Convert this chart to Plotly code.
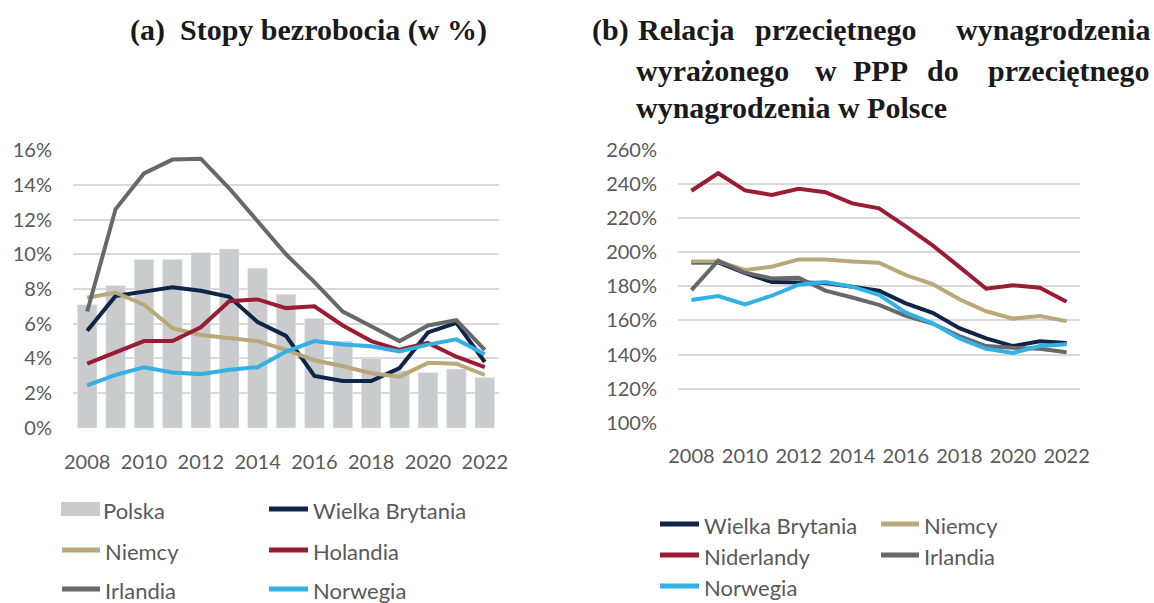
import plotly.graph_objects as go

# ---- data -------------------------------------------------------------
years = list(range(2008, 2023))
year_ticks = [2008, 2010, 2012, 2014, 2016, 2018, 2020, 2022]

# (a) unemployment rates, %
polska = [7.1, 8.2, 9.7, 9.7, 10.1, 10.3, 9.2, 7.7, 6.3, 5.0, 4.0, 3.3, 3.2, 3.4, 2.9]
u_wielka_brytania = [5.6, 7.6, 7.85, 8.1, 7.9, 7.55, 6.1, 5.3, 3.0, 2.7, 2.7, 3.45, 5.5, 6.05, 3.8]
u_niemcy = [7.5, 7.8, 7.1, 5.75, 5.35, 5.15, 5.0, 4.5, 3.9, 3.55, 3.15, 2.95, 3.75, 3.7, 3.05]
u_holandia = [3.7, 4.35, 5.0, 5.0, 5.8, 7.3, 7.4, 6.9, 7.0, 5.9, 5.0, 4.5, 4.9, 4.1, 3.5]
u_irlandia = [6.7, 12.6, 14.65, 15.45, 15.5, 13.8, 11.9, 10.0, 8.4, 6.7, 5.85, 5.0, 5.9, 6.2, 4.5]
u_norwegia = [2.45, 3.05, 3.5, 3.2, 3.1, 3.35, 3.5, 4.4, 5.0, 4.8, 4.7, 4.4, 4.8, 5.1, 4.25]

# (b) average wage in PPP relative to the Polish average wage, %
w_wielka_brytania = [194, 194, 187.7, 182.5, 182.3, 182, 179.8, 177.4, 170, 164.5, 155.5, 149.5, 145, 147.8, 146.8]
w_niemcy = [194.5, 194.5, 189.6, 191.5, 195.8, 195.8, 194.5, 193.9, 186.6, 181.3, 172.4, 165.4, 161.1, 162.6, 159.6]
w_niderlandy = [236, 246.3, 236.2, 233.6, 237.2, 235.2, 228.6, 225.7, 215.2, 204, 191.4, 178.6, 180.6, 179.2, 171]
w_irlandia = [177.8, 195.1, 188, 184.6, 185, 177.5, 173.5, 169.2, 162.7, 158.2, 150.8, 145, 144, 143.4, 141.4]
w_norwegia = [172, 174.3, 169.4, 174.5, 181, 182.5, 179.8, 175, 164.6, 158.4, 149.5, 143.4, 141, 145, 146]

# ---- styling ----------------------------------------------------------
C_BAR = "#c9cbcc"
C_NAVY = "#0f2548"
C_TAN = "#b8a87a"
C_RED = "#9a1c34"
C_GRAY = "#66696a"
C_BLUE = "#33b1e4"
TXT = "#595959"
GRID = "#d9d9d9"
FONT = "Lato"
W, H = 1154, 603


def px_x(x):
    return x / W


def px_y(y):
    return 1 - y / H


fig = go.Figure()

# left panel
fig.add_trace(go.Bar(x=years, y=polska, marker_color=C_BAR, name="Polska",
                     xaxis="x", yaxis="y", showlegend=False))
left_lines = [
    ("Wielka Brytania", u_wielka_brytania, C_NAVY),
    ("Niemcy", u_niemcy, C_TAN),
    ("Holandia", u_holandia, C_RED),
    ("Irlandia", u_irlandia, C_GRAY),
    ("Norwegia", u_norwegia, C_BLUE),
]
for name, vals, col in left_lines:
    fig.add_trace(go.Scatter(x=years, y=vals, mode="lines", name=name,
                             line=dict(color=col, width=4), xaxis="x", yaxis="y",
                             showlegend=False))

# right panel
right_lines = [
    ("Wielka Brytania", w_wielka_brytania, C_NAVY),
    ("Niemcy", w_niemcy, C_TAN),
    ("Niderlandy", w_niderlandy, C_RED),
    ("Irlandia", w_irlandia, C_GRAY),
    ("Norwegia", w_norwegia, C_BLUE),
]
for name, vals, col in right_lines:
    fig.add_trace(go.Scatter(x=years, y=vals, mode="lines", name=name,
                             line=dict(color=col, width=4), xaxis="x2", yaxis="y2",
                             showlegend=False))

tickfont = dict(family=FONT, size=20, color=TXT)
xcommon = dict(tickvals=year_ticks, ticktext=[str(t) for t in year_ticks],
               range=[2007.5, 2022.5], showgrid=False, zeroline=False,
               showline=False, ticks="", tickfont=tickfont, ticklabelstandoff=19,
               automargin=False)
ycommon = dict(showgrid=True, gridcolor=GRID, gridwidth=2, zeroline=False,
               showline=False, ticks="", tickfont=tickfont, ticksuffix="%",
               ticklabelstandoff=20, automargin=False)

fig.update_layout(
    width=W, height=H,
    margin=dict(l=0, r=0, t=0, b=0, autoexpand=False),
    paper_bgcolor="white", plot_bgcolor="white",
    bargap=0.31,
    xaxis=dict(domain=[px_x(73), px_x(499)], anchor="y", **xcommon),
    yaxis=dict(domain=[px_y(428.5), px_y(149.5)], anchor="x",
               range=[-0.03, 16.03], dtick=2, **ycommon),
    xaxis2=dict(domain=[px_x(678), px_x(1080)], anchor="y2", **xcommon),
    yaxis2=dict(domain=[px_y(423.2), px_y(149.5)], anchor="x2",
                range=[99.8, 260.2], dtick=20, **ycommon),
)

# ---- titles -----------------------------------------------------------
tfont = dict(family="Liberation Serif", size=30, color="#1a1a1a")


def title_word(text, x, y, anchor="left"):
    fig.add_annotation(text=f"<b>{text}</b>", x=px_x(x), y=px_y(y), xref="paper",
                       yref="paper", xanchor=anchor, yanchor="middle",
                       showarrow=False, font=tfont)


title_word("(a)  Stopy bezrobocia (w %)", 128, 30)
title_word("(b)", 590, 30)
title_word("Relacja", 636, 30)
title_word("przeciętnego", 836, 30, "center")
title_word("wynagrodzenia", 1152, 30, "right")
title_word("wyrażonego", 634, 70)
title_word("w", 826, 70, "center")
title_word("PPP", 880, 70, "center")
title_word("do", 943, 70, "center")
title_word("przeciętnego", 1152, 70, "right")
title_word("wynagrodzenia w Polsce", 634, 108)

# ---- legends ----------------------------------------------------------
lfont = dict(family=FONT, size=22, color=TXT)


def legend_item(name, color, x0, x1, y, kind="line"):
    if kind == "bar":
        fig.add_shape(type="rect", xref="paper", yref="paper",
                      x0=px_x(x0), x1=px_x(x1), y0=px_y(y - 7), y1=px_y(y + 7),
                      fillcolor=color, line=dict(width=0))
    else:
        fig.add_shape(type="line", xref="paper", yref="paper",
                      x0=px_x(x0 + 2), x1=px_x(x1 - 2), y0=px_y(y), y1=px_y(y),
                      line=dict(color=color, width=5))
    fig.add_annotation(text=name, x=px_x(x1 + 1), y=px_y(y + 1), xref="paper",
                       yref="paper", xanchor="left", yanchor="middle",
                       showarrow=False, font=lfont)


legend_item("Polska", C_BAR, 61, 100, 509, "bar")
legend_item(left_lines[0][0], left_lines[0][2], 267, 310, 509)
legend_item(left_lines[1][0], left_lines[1][2], 60, 102, 550)
legend_item(left_lines[2][0], left_lines[2][2], 267, 310, 550)
legend_item(left_lines[3][0], left_lines[3][2], 60, 102, 589)
legend_item(left_lines[4][0], left_lines[4][2], 267, 310, 589)

legend_item(right_lines[0][0], right_lines[0][2], 658, 701, 524)
legend_item(right_lines[1][0], right_lines[1][2], 879, 921, 524)
legend_item(right_lines[2][0], right_lines[2][2], 658, 701, 555)
legend_item(right_lines[3][0], right_lines[3][2], 879, 921, 555)
legend_item(right_lines[4][0], right_lines[4][2], 658, 701, 586)

fig.write_html("out.html")
